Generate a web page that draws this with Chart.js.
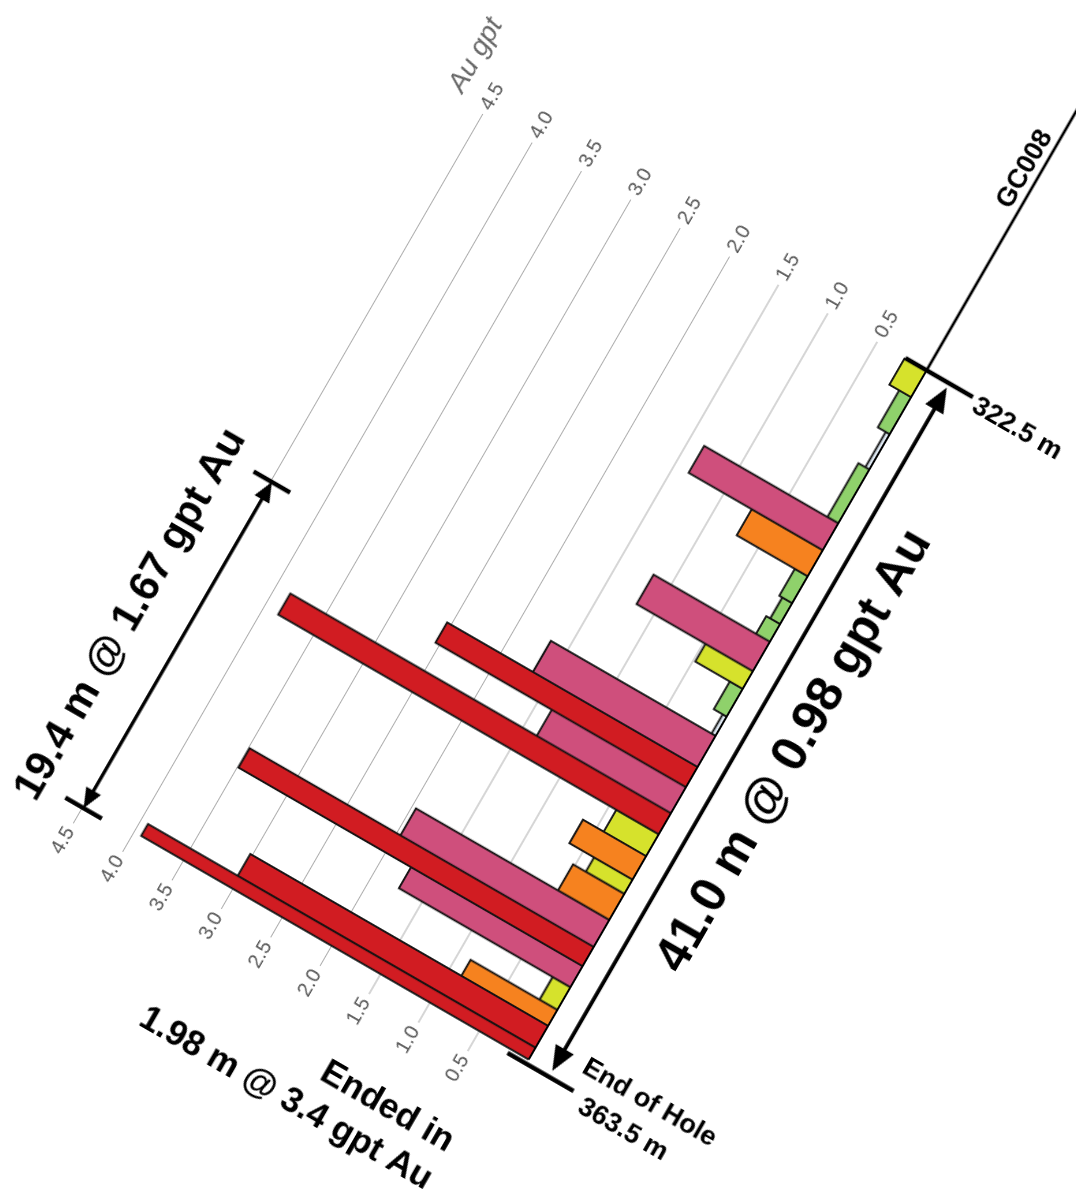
<!DOCTYPE html>
<html>
<head>
<meta charset="utf-8">
<script src="https://cdn.jsdelivr.net/npm/chart.js@4.4.1/dist/chart.umd.min.js"></script>
<style>
  html, body { margin: 0; padding: 0; background: #fff; width: 1076px; height: 1189px; overflow: hidden; }
  #wrap { position: absolute; width: 1380px; height: 850px; transform-origin: 0 0; transform: rotate(-60deg); }
</style>
</head>
<body>
<div id="wrap"><canvas id="log" width="1380" height="850"></canvas></div>
<script>
// assay intervals down hole GC008 (m) and gold grade (g/t)
let depthFrom = [322.5, 324.1, 326.3, 328.4, 331.6, 333.2, 334.75, 336.35, 337.6, 338.65, 340.4, 341.45, 343.1, 344.25,
                 346.1, 346.7, 348.85, 350.1, 351.4, 352.8, 353.65, 355.2, 356.8, 357.4, 359.2, 360.55, 361.5, 362.8];
let depthTo   = [324.1, 326.3, 328.4, 331.6, 333.2, 334.75, 336.35, 337.6, 338.65, 340.4, 341.45, 343.1, 344.25, 346.7,
                 347.3, 348.85, 350.1, 351.4, 352.8, 353.65, 355.2, 357.4, 357.95, 359.2, 360.55, 361.5, 362.8, 363.5];
let auGpt     = [0.22, 0.12, 0.04, 0.11, 1.36, 0.72, 0.13, 0.10, 0.14, 1.18, 0.48, 0.13, 0.04, 1.67,
                 2.54, 1.36, 3.86, 0.43, 0.64, 0.39, 0.52, 1.96, 3.49, 1.74, 0.18, 0.88, 3.02, 3.93];

// grade classes (upper bound -> colour)
let gradeBreaks = [0.1, 0.15, 0.5, 1.0, 2.0, Infinity];
let gradeColors = ['#dde7f1', '#8fd16b', '#d6e22c', '#f6821f', '#cf4f7c', '#d11c22'];

let holeName = 'GC008';
let holeTop = 322.5, holeEnd = 363.5;
let gradeMax = 4.5, gradeStep = 0.5;
let axisTitle = 'Au gpt';
let mainIntercept = '41.0 m @ 0.98 gpt Au';
let subIntercept = '19.4 m @ 1.67 gpt Au';
let subFrom = 344.35;
let endNote = ['Ended in', '1.98 m @ 3.4 gpt Au'];
let eohNote = ['End of Hole', '363.5 m'];

// page layout: the log is drawn flat and then turned -60deg
const W = 1380, H = 850;
const X_TOP = 1040, Y_ZERO = 630;          // canvas px of 322.5 m / 0 gpt
const PX_M = 19.41, PX_G = 113.85;
const DEPTH_MAX = 364.7;
const ANCHOR = { x: 926.2, y: 370.3 };     // where that point lands on the page

const wrap = document.getElementById('wrap');
const rad = -60 * Math.PI / 180;
wrap.style.left = (ANCHOR.x - (Math.cos(rad) * X_TOP - Math.sin(rad) * Y_ZERO)) + 'px';
wrap.style.top = (ANCHOR.y - (Math.sin(rad) * X_TOP + Math.cos(rad) * Y_ZERO)) + 'px';

const plotLeft = X_TOP - (DEPTH_MAX - holeTop) * PX_M;
const plotTop = Y_ZERO - gradeMax * PX_G;
const AXW = 60;

function gradeColor(v) {
  let i = gradeBreaks.findIndex(b => v < b);
  return gradeColors[i];
}

let datasets = auGpt.map((v, i) => ({
  data: [
    { x: depthFrom[i], y: 0 }, { x: depthFrom[i], y: v },
    { x: depthTo[i], y: v }, { x: depthTo[i], y: 0 }
  ],
  backgroundColor: gradeColor(v),
  borderColor: '#111',
  borderWidth: 1.9,
  fill: 'origin',
  tension: 0,
  pointRadius: 0,
  pointHoverRadius: 0,
  order: -v
}));

const SANS = '"Liberation Sans", Arial, sans-serif';

function seg(ctx, x1, y1, x2, y2, w) {
  ctx.lineWidth = w;
  ctx.beginPath(); ctx.moveTo(x1, y1); ctx.lineTo(x2, y2); ctx.stroke();
}

function head(ctx, tx, ty, ang, len, half) {
  ctx.beginPath();
  ctx.moveTo(tx, ty);
  ctx.lineTo(tx - len * Math.cos(ang) - half * Math.sin(ang), ty - len * Math.sin(ang) + half * Math.cos(ang));
  ctx.lineTo(tx - len * Math.cos(ang) + half * Math.sin(ang), ty - len * Math.sin(ang) - half * Math.cos(ang));
  ctx.closePath(); ctx.fill();
}

function dblArrow(ctx, x1, y1, x2, y2, w, len, half) {
  let a = Math.atan2(y2 - y1, x2 - x1);
  let dx = Math.cos(a) * (len - 2), dy = Math.sin(a) * (len - 2);
  seg(ctx, x1 + dx, y1 + dy, x2 - dx, y2 - dy, w);
  head(ctx, x2, y2, a, len, half);
  head(ctx, x1, y1, a + Math.PI, len, half);
}

function turned(ctx, txt, x, y, align) {
  ctx.save();
  ctx.translate(x, y);
  ctx.rotate(Math.PI / 2);
  ctx.textAlign = align;
  ctx.fillText(txt, 0, 0);
  ctx.restore();
}

const notes = {
  id: 'notes',
  afterDatasetsDraw(chart) {
    const { ctx, scales: { x, y } } = chart;
    const X = d => x.getPixelForValue(d);
    const Y = g => y.getPixelForValue(g);
    ctx.save();
    ctx.strokeStyle = '#000';
    ctx.fillStyle = '#000';

    // hole trace and bar base
    seg(ctx, X(holeTop), Y(0), X(305), Y(0), 2.8);
    seg(ctx, X(holeTop), Y(0), X(holeEnd), Y(0), 1.9);

    // interval marks
    seg(ctx, X(holeTop), Y(0.215), X(holeTop), Y(-0.47), 4.5);
    seg(ctx, X(363.75), Y(0.19), X(363.75), Y(-0.48), 4.5);
    dblArrow(ctx, X(322.75), Y(-0.23), X(363.4), Y(-0.23), 3.8, 25, 10.5);

    seg(ctx, X(subFrom), Y(4.675), X(subFrom), Y(4.305), 4.5);
    seg(ctx, X(363.75), Y(4.675), X(363.75), Y(4.305), 4.5);
    dblArrow(ctx, X(subFrom), Y(4.49), X(363.75), Y(4.49), 3.4, 20, 8.5);

    // labels
    ctx.textBaseline = 'alphabetic';
    ctx.textAlign = 'center';
    ctx.font = 'bold 27px ' + SANS;
    ctx.fillText(holeName, X(311.0), Y(0.07));
    ctx.font = 'bold 50px ' + SANS;
    ctx.fillText(mainIntercept, X(342.9), Y(-0.79));
    ctx.font = 'bold 42px ' + SANS;
    ctx.fillText(subIntercept, X(353.9), Y(4.88));

    ctx.font = 'bold 27px ' + SANS;
    turned(ctx, holeTop.toFixed(1) + ' m', X(323.17), Y(-0.51), 'left');
    turned(ctx, eohNote[0], X(362.7), Y(-0.45), 'left');
    turned(ctx, eohNote[1], X(364.6), Y(-0.59), 'left');

    ctx.font = 'bold 35px ' + SANS;
    turned(ctx, endNote[0], X(369.77), Y(0.22), 'right');
    turned(ctx, endNote[1], X(372.0), Y(0.22), 'right');

    ctx.fillStyle = '#666';
    ctx.font = 'italic 28px ' + SANS;
    ctx.textAlign = 'left';
    ctx.textBaseline = 'middle';
    ctx.fillText(axisTitle, X(holeTop) + 7, Y(4.81));
    ctx.restore();
  }
};

const gradeTicks = {
  stepSize: gradeStep,
  padding: 6,
  color: '#555',
  font: { family: SANS, size: 20 },
  callback: v => (v === 0 ? '' : v.toFixed(1))
};

new Chart(document.getElementById('log'), {
  type: 'line',
  data: { datasets: datasets },
  options: {
    responsive: false,
    animation: false,
    devicePixelRatio: 2,
    events: [],
    layout: {
      padding: { left: plotLeft - AXW, right: W - X_TOP - AXW, top: plotTop, bottom: H - Y_ZERO }
    },
    plugins: { legend: { display: false }, tooltip: { enabled: false } },
    scales: {
      x: { type: 'linear', reverse: true, min: holeTop, max: DEPTH_MAX, display: false },
      y: {
        min: 0, max: gradeMax, position: 'left',
        afterFit: s => { s.width = AXW; },
        border: { display: false },
        grid: {
          drawTicks: false,
          lineWidth: 1,
          color: c => (c.tick && c.tick.value === 0 ? 'rgba(0,0,0,0)' : '#adadad')
        },
        ticks: gradeTicks
      },
      y2: {
        min: 0, max: gradeMax, position: 'right',
        afterFit: s => { s.width = AXW; },
        border: { display: false },
        grid: { display: false, drawTicks: false },
        ticks: gradeTicks
      }
    }
  },
  plugins: [notes]
});
</script>
</body>
</html>
